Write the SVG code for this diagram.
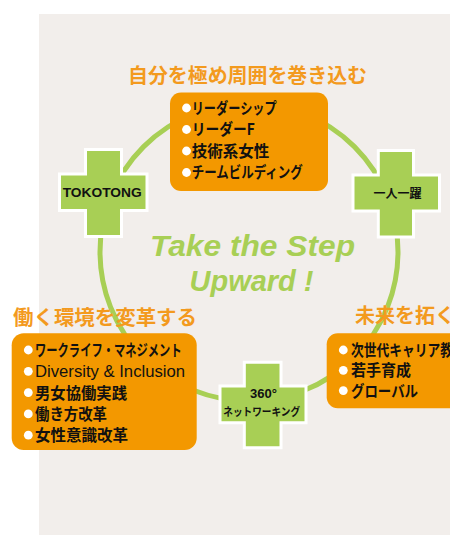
<svg xmlns="http://www.w3.org/2000/svg" width="450" height="535" viewBox="0 0 450 535">
<style>
.bg{fill:#f2eeeb}
.ring{fill:none;stroke:#a8cf55;stroke-width:5}
.cross{fill:#a8cf55;stroke:#ffffff;stroke-width:3;stroke-linejoin:miter}
.box{fill:#f39800}
.dot{fill:#ffffff}
.title{font-family:"Noto Sans CJK JP","Noto Sans",sans-serif;font-weight:700;font-size:20px;fill:#f39a1e}
.item{font-family:"Noto Sans CJK JP","Noto Sans",sans-serif;font-weight:700;font-size:15.5px;fill:#111111}
.lat{font-family:"Liberation Sans","Noto Sans",sans-serif;font-weight:400;font-size:16px;fill:#111111}
.cl{font-family:"Liberation Sans","Noto Sans CJK JP",sans-serif;font-weight:700;fill:#111111;text-anchor:middle}
.cj{font-family:"Noto Sans CJK JP",sans-serif;font-weight:700;fill:#111111;text-anchor:middle}
.slogan{font-family:"Liberation Sans","Arial",sans-serif;font-weight:700;font-style:italic;font-size:29px;fill:#a8cf55;text-anchor:middle}
</style>
<rect class="bg" x="39" y="14" width="411" height="521"/>

<g id="connectors">
  <circle class="ring" cx="249" cy="252" r="149"/>
</g>

<g id="slogan">
  <text class="slogan" x="252.5" y="255.5" font-size="30" textLength="205" lengthAdjust="spacingAndGlyphs">Take the Step</text>
  <text class="slogan" x="251.5" y="291">Upward !</text>
</g>

<g id="node-top">
  <text class="title" x="128" y="82.6" textLength="239" lengthAdjust="spacingAndGlyphs">自分を極め周囲を巻き込む</text>
  <rect class="box" x="170" y="92.5" width="158" height="98.5" rx="11"/>
  <circle class="dot" cx="186.5" cy="108" r="4.4"/>
  <circle class="dot" cx="186.5" cy="129.5" r="4.4"/>
  <circle class="dot" cx="186.5" cy="151" r="4.4"/>
  <circle class="dot" cx="186.5" cy="172.5" r="4.4"/>
  <text class="item" x="191.7" y="113.9" textLength="85" lengthAdjust="spacingAndGlyphs">リーダーシップ</text>
  <text class="item" x="191.7" y="135.4" textLength="63" lengthAdjust="spacingAndGlyphs">リーダーF</text>
  <text class="item" x="191.7" y="156.9">技術系女性</text>
  <text class="item" x="191.7" y="178.4" textLength="111" lengthAdjust="spacingAndGlyphs">チームビルディング</text>
</g>

<g id="node-left">
  <text class="title" x="13" y="325" textLength="184" lengthAdjust="spacingAndGlyphs">働く環境を変革する</text>
  <rect class="box" x="11.7" y="333.3" width="185" height="116.7" rx="12"/>
  <circle class="dot" cx="28.3" cy="350" r="4.4"/>
  <circle class="dot" cx="28.3" cy="371.3" r="4.4"/>
  <circle class="dot" cx="28.3" cy="392.6" r="4.4"/>
  <circle class="dot" cx="28.3" cy="413.9" r="4.4"/>
  <circle class="dot" cx="28.3" cy="435.2" r="4.4"/>
  <text class="item" x="35" y="355.9" textLength="146.7" lengthAdjust="spacingAndGlyphs">ワークライフ・マネジメント</text>
  <text class="lat" x="35" y="377.2" textLength="150" lengthAdjust="spacingAndGlyphs">Diversity &amp; Inclusion</text>
  <text class="item" x="35" y="398.5" textLength="92" lengthAdjust="spacingAndGlyphs">男女協働実践</text>
  <text class="item" x="35" y="419.8" textLength="72" lengthAdjust="spacingAndGlyphs">働き方改革</text>
  <text class="item" x="35" y="441.1" textLength="93" lengthAdjust="spacingAndGlyphs">女性意識改革</text>
</g>

<g id="node-right">
  <text class="title" x="355" y="322.8">未来を拓く</text>
  <rect class="box" x="326.7" y="333.3" width="140" height="75" rx="11"/>
  <circle class="dot" cx="343.3" cy="350" r="4.4"/>
  <circle class="dot" cx="343.3" cy="370.3" r="4.4"/>
  <circle class="dot" cx="343.3" cy="390.6" r="4.4"/>
  <text class="item" x="351" y="355.9" textLength="102" lengthAdjust="spacingAndGlyphs">次世代キャリア教</text>
  <text class="item" x="351" y="376.2" textLength="60" lengthAdjust="spacingAndGlyphs">若手育成</text>
  <text class="item" x="351" y="396.5" textLength="67" lengthAdjust="spacingAndGlyphs">グローバル</text>
</g>

<g id="node-tokotong">
  <path class="cross" d="M85.5 149.5 H121.5 V174 H147 V210.5 H121.5 V236.5 H85.5 V210.5 H59.5 V174 H85.5 Z"/>
  <text class="cl" x="102.2" y="197.4" font-size="13" textLength="79" lengthAdjust="spacingAndGlyphs">TOKOTONG</text>
</g>

<g id="node-ichinin">
  <path class="cross" d="M378.3 150.5 H413.5 V175 H439.5 V211 H413.5 V237 H378.3 V211 H353 V175 H378.3 Z"/>
  <text class="cj" x="397.5" y="197.9" font-size="12" textLength="48" lengthAdjust="spacingAndGlyphs">一人一躍</text>
</g>

<g id="node-360">
  <path class="cross" d="M244.3 362.3 H281 V386 H306 V422.7 H281 V447.7 H244.3 V422.7 H220 V386 H244.3 Z"/>
  <text class="cl" x="263.5" y="398.3" font-size="13">360°</text>
  <text class="cj" x="261.7" y="415.9" font-size="11" textLength="76.7" lengthAdjust="spacingAndGlyphs">ネットワーキング</text>
</g>
</svg>
